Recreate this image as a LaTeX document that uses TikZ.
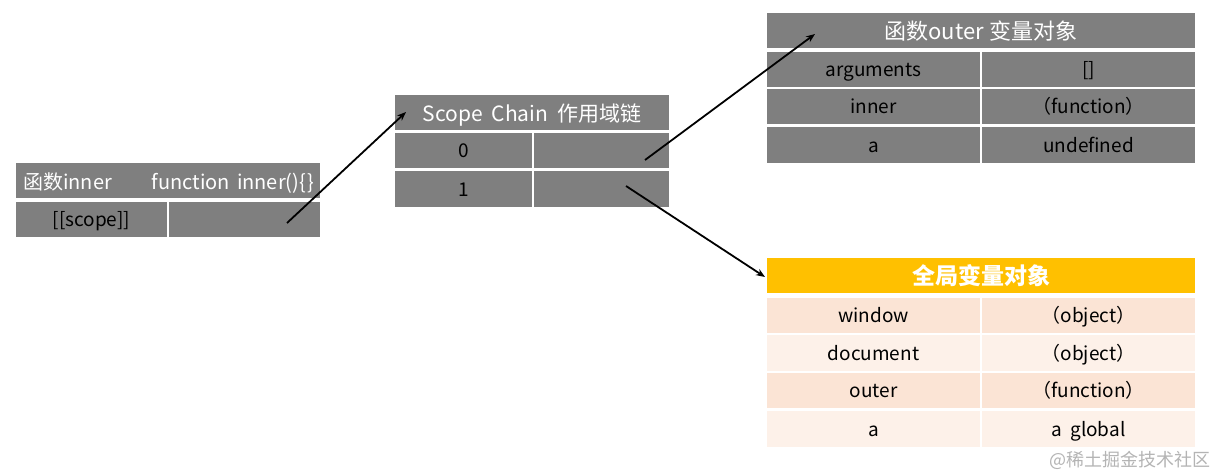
\documentclass[tikz,border=0pt]{standalone}
\usepackage{fontspec}
\setmainfont{Noto Sans CJK SC}
\usetikzlibrary{arrows.meta}
\definecolor{cgray}{HTML}{7F7F7F}
\definecolor{cgold}{HTML}{FFC000}
\definecolor{cpeach}{HTML}{FBE4D5}
\definecolor{cpeachl}{HTML}{FDF1E9}
\definecolor{cmark}{HTML}{B4B4B4}
\tikzset{
  cell/.style={rectangle, inner sep=0pt, outer sep=0pt, draw=none, text height=14pt, text depth=0pt, font=\fontsize{19}{21}\selectfont},
  gcell/.style={cell, fill=cgray, text=black},
  hdr/.style={cell, fill=cgray, text=white, text height=17pt},
  ghdr/.style={cell, fill=cgold, text=white, text height=17pt, font=\fontsize{23}{25}\selectfont\bfseries},
  pcell/.style={cell, fill=cpeach, text=black},
  plcell/.style={cell, fill=cpeachl, text=black},
  hlabel/.style={text=white, inner sep=0pt, font=\fontsize{20}{22}\selectfont},
  link/.style={line width=1.8pt, -{Stealth[length=9pt,width=7pt]}}
}
\begin{document}
\begin{tikzpicture}[x=1pt,y=-1pt]
\useasboundingbox[fill=white] (0,0) rectangle (1214,474);
% inner function
\node[hdr, minimum width=304pt, minimum height=35pt] (ih) at (168,180.5) {};
\node[hlabel, anchor=base west] (ihl) at (23,189) {函数inner};
\node[hlabel, anchor=base east] (ihr) at (314,189) {function\hspace{7pt}inner()\{\hspace{1pt}\}};
\node[gcell, minimum width=151pt, minimum height=35pt] (isl) at (91.5,219.5) {[[scope]]};
\node[gcell, minimum width=151pt, minimum height=35pt] (isr) at (244.5,219.5) {};
% scope chain
\node[hdr, minimum width=274pt, minimum height=35pt, font=\fontsize{21}{23}\selectfont] (sh) at (532,112.5) {Scope\hspace{9pt}Chain\hspace{9pt}作用域链};
\node[gcell, minimum width=137pt, minimum height=35pt] (s0l) at (463.5,150.5) {0};
\node[gcell, minimum width=135pt, minimum height=35pt] (s0r) at (601.5,150.5) {};
\node[gcell, minimum width=137pt, minimum height=36pt] (s1l) at (463.5,189) {1};
\node[gcell, minimum width=135pt, minimum height=36pt] (s1r) at (601.5,189) {};
% outer variable object
\node[hdr, minimum width=428pt, minimum height=35pt, font=\fontsize{22}{24}\selectfont] (oh) at (981,30.5) {函数outer\hspace{6pt}变量对象};
\node[gcell, minimum width=213pt, minimum height=35pt] (o1l) at (873.5,69.5) {arguments};
\node[gcell, minimum width=213pt, minimum height=35pt] (o1r) at (1088.5,69.5) {[]};
\node[gcell, minimum width=213pt, minimum height=35pt] (o2l) at (873.5,106.5) {inner};
\node[gcell, minimum width=213pt, minimum height=35pt] (o2r) at (1088.5,106.5) {（function）};
\node[gcell, minimum width=213pt, minimum height=36pt] (o3l) at (873.5,145) {a};
\node[gcell, minimum width=213pt, minimum height=36pt] (o3r) at (1088.5,145) {undefined};
% global variable object
\node[ghdr, minimum width=428pt, minimum height=35pt] (gh) at (981,275.5) {全局变量对象};
\node[pcell, minimum width=213pt, minimum height=35pt] (g1l) at (873.5,315.5) {window};
\node[pcell, minimum width=213pt, minimum height=35pt] (g1r) at (1088.5,315.5) {（object）};
\node[plcell, minimum width=213pt, minimum height=36pt] (g2l) at (873.5,353) {document};
\node[plcell, minimum width=213pt, minimum height=36pt] (g2r) at (1088.5,353) {（object）};
\node[pcell, minimum width=213pt, minimum height=35pt] (g3l) at (873.5,390.5) {outer};
\node[pcell, minimum width=213pt, minimum height=35pt] (g3r) at (1088.5,390.5) {（function）};
\node[plcell, minimum width=213pt, minimum height=36pt] (g4l) at (873.5,429) {a};
\node[plcell, minimum width=213pt, minimum height=36pt] (g4r) at (1088.5,429) {a\hspace{8pt}global};
% arrow anchor points
\coordinate (a1s) at (287,223);
\coordinate (a1e) at (406,112);
\coordinate (a2s) at (645,160);
\coordinate (a2e) at (815,34);
\coordinate (a3s) at (626,186);
\coordinate (a3e) at (765,277);
\draw[link] (a1s) -- (a1e);
\draw[link] (a2s) -- (a2e);
\draw[link] (a3s) -- (a3e);
% watermark
\node[text=cmark, inner sep=0pt, anchor=east, font=\fontsize{18}{20}\selectfont] (wm) at (1211,460) {@稀土掘金技术社区};
\end{tikzpicture}
\end{document}
